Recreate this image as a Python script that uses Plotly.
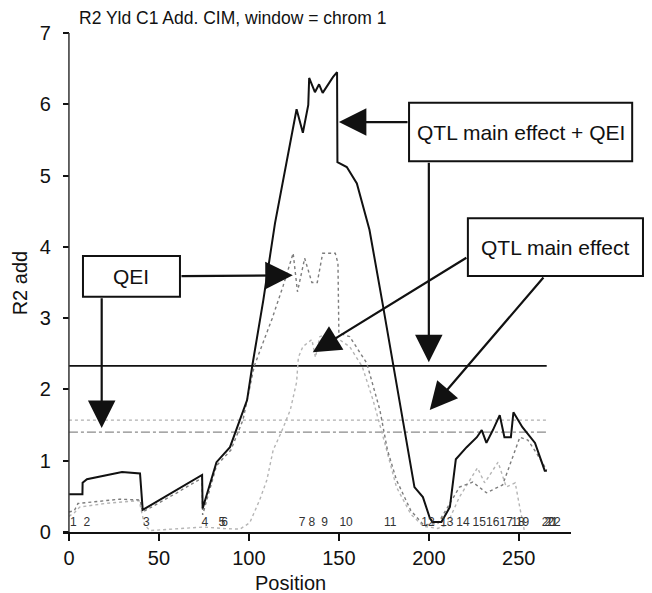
import plotly.graph_objects as go

# QTL main effect + QEI (black solid)
pos_total = [0, 7.5, 7.6, 10, 29.5, 39.5, 41, 74, 74.3, 82, 89.5, 93, 99, 102, 108,
             114.5, 121, 126.5, 130, 133, 133.5, 136.7, 139, 141, 146.7, 149, 149.2,
             154.4, 160, 167, 174, 180, 186.7, 192, 196.7, 200.5, 202, 207, 211.7,
             215, 221, 226.7, 229.4, 232, 235.6, 239.4, 242, 245.6, 247, 252, 259,
             261.7, 264.4, 265.6]
r2_total = [0.53, 0.53, 0.69, 0.74, 0.84, 0.82, 0.31, 0.80, 0.33, 0.98, 1.19, 1.43, 1.85,
            2.35, 3.25, 4.33, 5.17, 5.93, 5.60, 5.99, 6.37, 6.17, 6.28, 6.16, 6.38,
            6.45, 5.19, 5.12, 4.89, 4.24, 3.25, 2.37, 1.39, 0.63, 0.49, 0.20, 0.14,
            0.14, 0.35, 1.02, 1.19, 1.33, 1.43, 1.25, 1.43, 1.64, 1.33, 1.33, 1.68,
            1.47, 1.25, 1.05, 0.86, 0.86]

# QEI (dark grey dotted)
pos_qei = [0, 3, 5, 15, 28, 39.5, 41, 60, 74, 74.3, 82, 90, 96.7, 103, 113, 119,
           124.6, 127, 131, 135, 138, 141, 148, 149.5, 150, 156, 165.5, 172.8, 177,
           182, 190, 197, 205, 211.7, 217, 224.4, 232, 241, 245, 250.6, 255, 260,
           265.5]
r2_qei = [0.28, 0.30, 0.40, 0.43, 0.46, 0.45, 0.28, 0.55, 0.76, 0.24, 0.93, 1.15,
          1.57, 2.33, 3.00, 3.45, 3.91, 3.37, 3.84, 3.50, 3.50, 3.91, 3.91, 3.77,
          2.79, 2.74, 2.37, 1.71, 1.15, 0.73, 0.30, 0.10, 0.12, 0.40, 0.63, 0.70,
          0.55, 0.66, 0.95, 1.33, 1.29, 1.10, 0.87]

# QTL main effect (light grey dotted)
pos_main = [0, 3, 6, 20, 39, 42, 45, 60, 75, 85, 95, 100.5, 106, 110, 113.5, 118,
            123, 126.5, 127.5, 130, 135, 137, 139.4, 145, 156, 163, 169, 174, 182,
            190, 197, 205, 210, 217, 222, 227, 231, 238.5, 243, 248, 250.5, 253]
r2_main = [0.22, 0.27, 0.35, 0.40, 0.44, 0.10, 0.02, 0.04, 0.07, 0.05, 0.04, 0.13,
           0.45, 0.73, 1.15, 1.40, 1.71, 2.10, 2.45, 2.60, 2.70, 2.45, 2.74, 2.79,
           2.60, 2.32, 1.85, 1.39, 0.63, 0.25, 0.08, 0.05, 0.10, 0.49, 0.70, 0.90,
           0.69, 0.98, 0.63, 0.69, 0.35, 0.03]

# significance thresholds
thr_total = 2.33
thr_main = 1.57
thr_qei = 1.40
thr_x = [0, 265.5]

# marker labels along the chromosome
marker_pos = [2.4, 10, 43, 75.5, 85, 86.5, 129.5, 135, 142, 154, 178.5, 199.5, 210,
              219, 228, 235.5, 243, 249.5, 252, 266.5, 268, 269.5]
marker_lab = [str(i) for i in range(1, 23)]

x_range = [-3.3, 279]


def to_paper(x):
    return (x - x_range[0]) / (x_range[1] - x_range[0])


fig = go.Figure()

fig.add_trace(go.Scatter(x=thr_x, y=[thr_main] * 2, mode="lines",
                         line=dict(color="#b0b0b0", width=1.3, dash="dot")))
fig.add_trace(go.Scatter(x=thr_x, y=[thr_qei] * 2, mode="lines",
                         line=dict(color="#8a8a8a", width=1.3, dash="dashdot")))
fig.add_trace(go.Scatter(x=thr_x, y=[thr_total] * 2, mode="lines",
                         line=dict(color="#111111", width=1.8)))
fig.add_trace(go.Scatter(x=pos_main, y=r2_main, mode="lines",
                         line=dict(color="#b5b5b5", width=1.4, dash="dot")))
fig.add_trace(go.Scatter(x=pos_qei, y=r2_qei, mode="lines",
                         line=dict(color="#7d7d7d", width=1.4, dash="dot")))
fig.add_trace(go.Scatter(x=pos_total, y=r2_total, mode="lines",
                         line=dict(color="#111111", width=2)))
fig.add_trace(go.Scatter(x=marker_pos, y=[0.12] * len(marker_pos), mode="text",
                         text=marker_lab,
                         textfont=dict(family="Liberation Sans Narrow, Liberation Sans",
                                       size=12, color="#333333")))

font = "Liberation Sans, Arial, sans-serif"

# label boxes (x in position units, may extend past the axis end)
boxes = [
    (189, 313, 5.20, 6.02, "QTL main effect + QEI"),
    (221.7, 319, 3.59, 4.40, "QTL main effect"),
    (7.8, 61.7, 3.30, 3.87, "QEI"),
]
for x0, x1, y0, y1, txt in boxes:
    fig.add_shape(type="rect", xref="paper", yref="y", x0=to_paper(x0), x1=to_paper(x1),
                  y0=y0, y1=y1, line=dict(color="#111111", width=2),
                  fillcolor="white", layer="above")
    fig.add_annotation(x=to_paper((x0 + x1) / 2), y=(y0 + y1) / 2, xref="paper", yref="y",
                       xanchor="center", text=txt, showarrow=False,
                       font=dict(family=font, size=21, color="#111111"))

# arrows: (tail x, tail y, tip x, tip y)
arrows = [
    (189, 5.75, 150, 5.75),
    (200, 5.20, 200, 2.38),
    (221.7, 3.86, 135.5, 2.52),
    (264.4, 3.59, 200.5, 1.71),
    (61.7, 3.59, 124.4, 3.60),
    (18.2, 3.30, 18.2, 1.46),
]
for tx, ty, hx, hy in arrows:
    fig.add_annotation(x=hx, y=hy, ax=tx, ay=ty, xref="x", yref="y", axref="x",
                       ayref="y", text="", showarrow=True, arrowhead=2,
                       arrowsize=2.5, arrowwidth=2.2, arrowcolor="#111111")

# y axis line drawn at x = 0
fig.add_shape(type="line", x0=0, x1=0, y0=0, y1=7, line=dict(color="#333333", width=1.5))

fig.add_annotation(x=0.0276, y=1.03, xref="paper", yref="paper", xanchor="left",
                   yanchor="middle", showarrow=False,
                   text="R2 Yld C1 Add. CIM, window = chrom 1",
                   font=dict(family=font, size=17.5, color="#111111"))
fig.add_annotation(x=123, y=-0.102, xref="x", yref="paper", xanchor="center",
                   yanchor="middle", showarrow=False,
                   text="Position", font=dict(family=font, size=20, color="#111111"))
fig.add_annotation(x=-0.085, y=0.5, xref="paper", yref="paper", xanchor="center",
                   yanchor="middle", showarrow=False, textangle=-90, text="R2 add",
                   font=dict(family=font, size=20, color="#111111"))

fig.update_layout(
    width=652, height=593,
    margin=dict(l=63, r=81, t=33, b=61),
    plot_bgcolor="white", paper_bgcolor="white",
    showlegend=False,
    font=dict(family=font, size=20, color="#111111"),
    xaxis=dict(range=x_range, tickvals=[0, 50, 100, 150, 200, 250],
               showgrid=False, zeroline=False, showline=True, linecolor="#111111",
               linewidth=2, ticks="outside", ticklen=7, tickwidth=1.5,
               tickcolor="#111111"),
    yaxis=dict(range=[0, 7], tickvals=list(range(8)), showgrid=False, zeroline=False,
               showline=False, ticks="outside", ticklen=6, tickwidth=1.5,
               tickcolor="#111111", anchor="free", position=0.0118,
               ticklabelstandoff=8),
)

fig.write_html("out.html", config={"displayModeBar": False},
               post_script="document.body.style.margin='0';")
